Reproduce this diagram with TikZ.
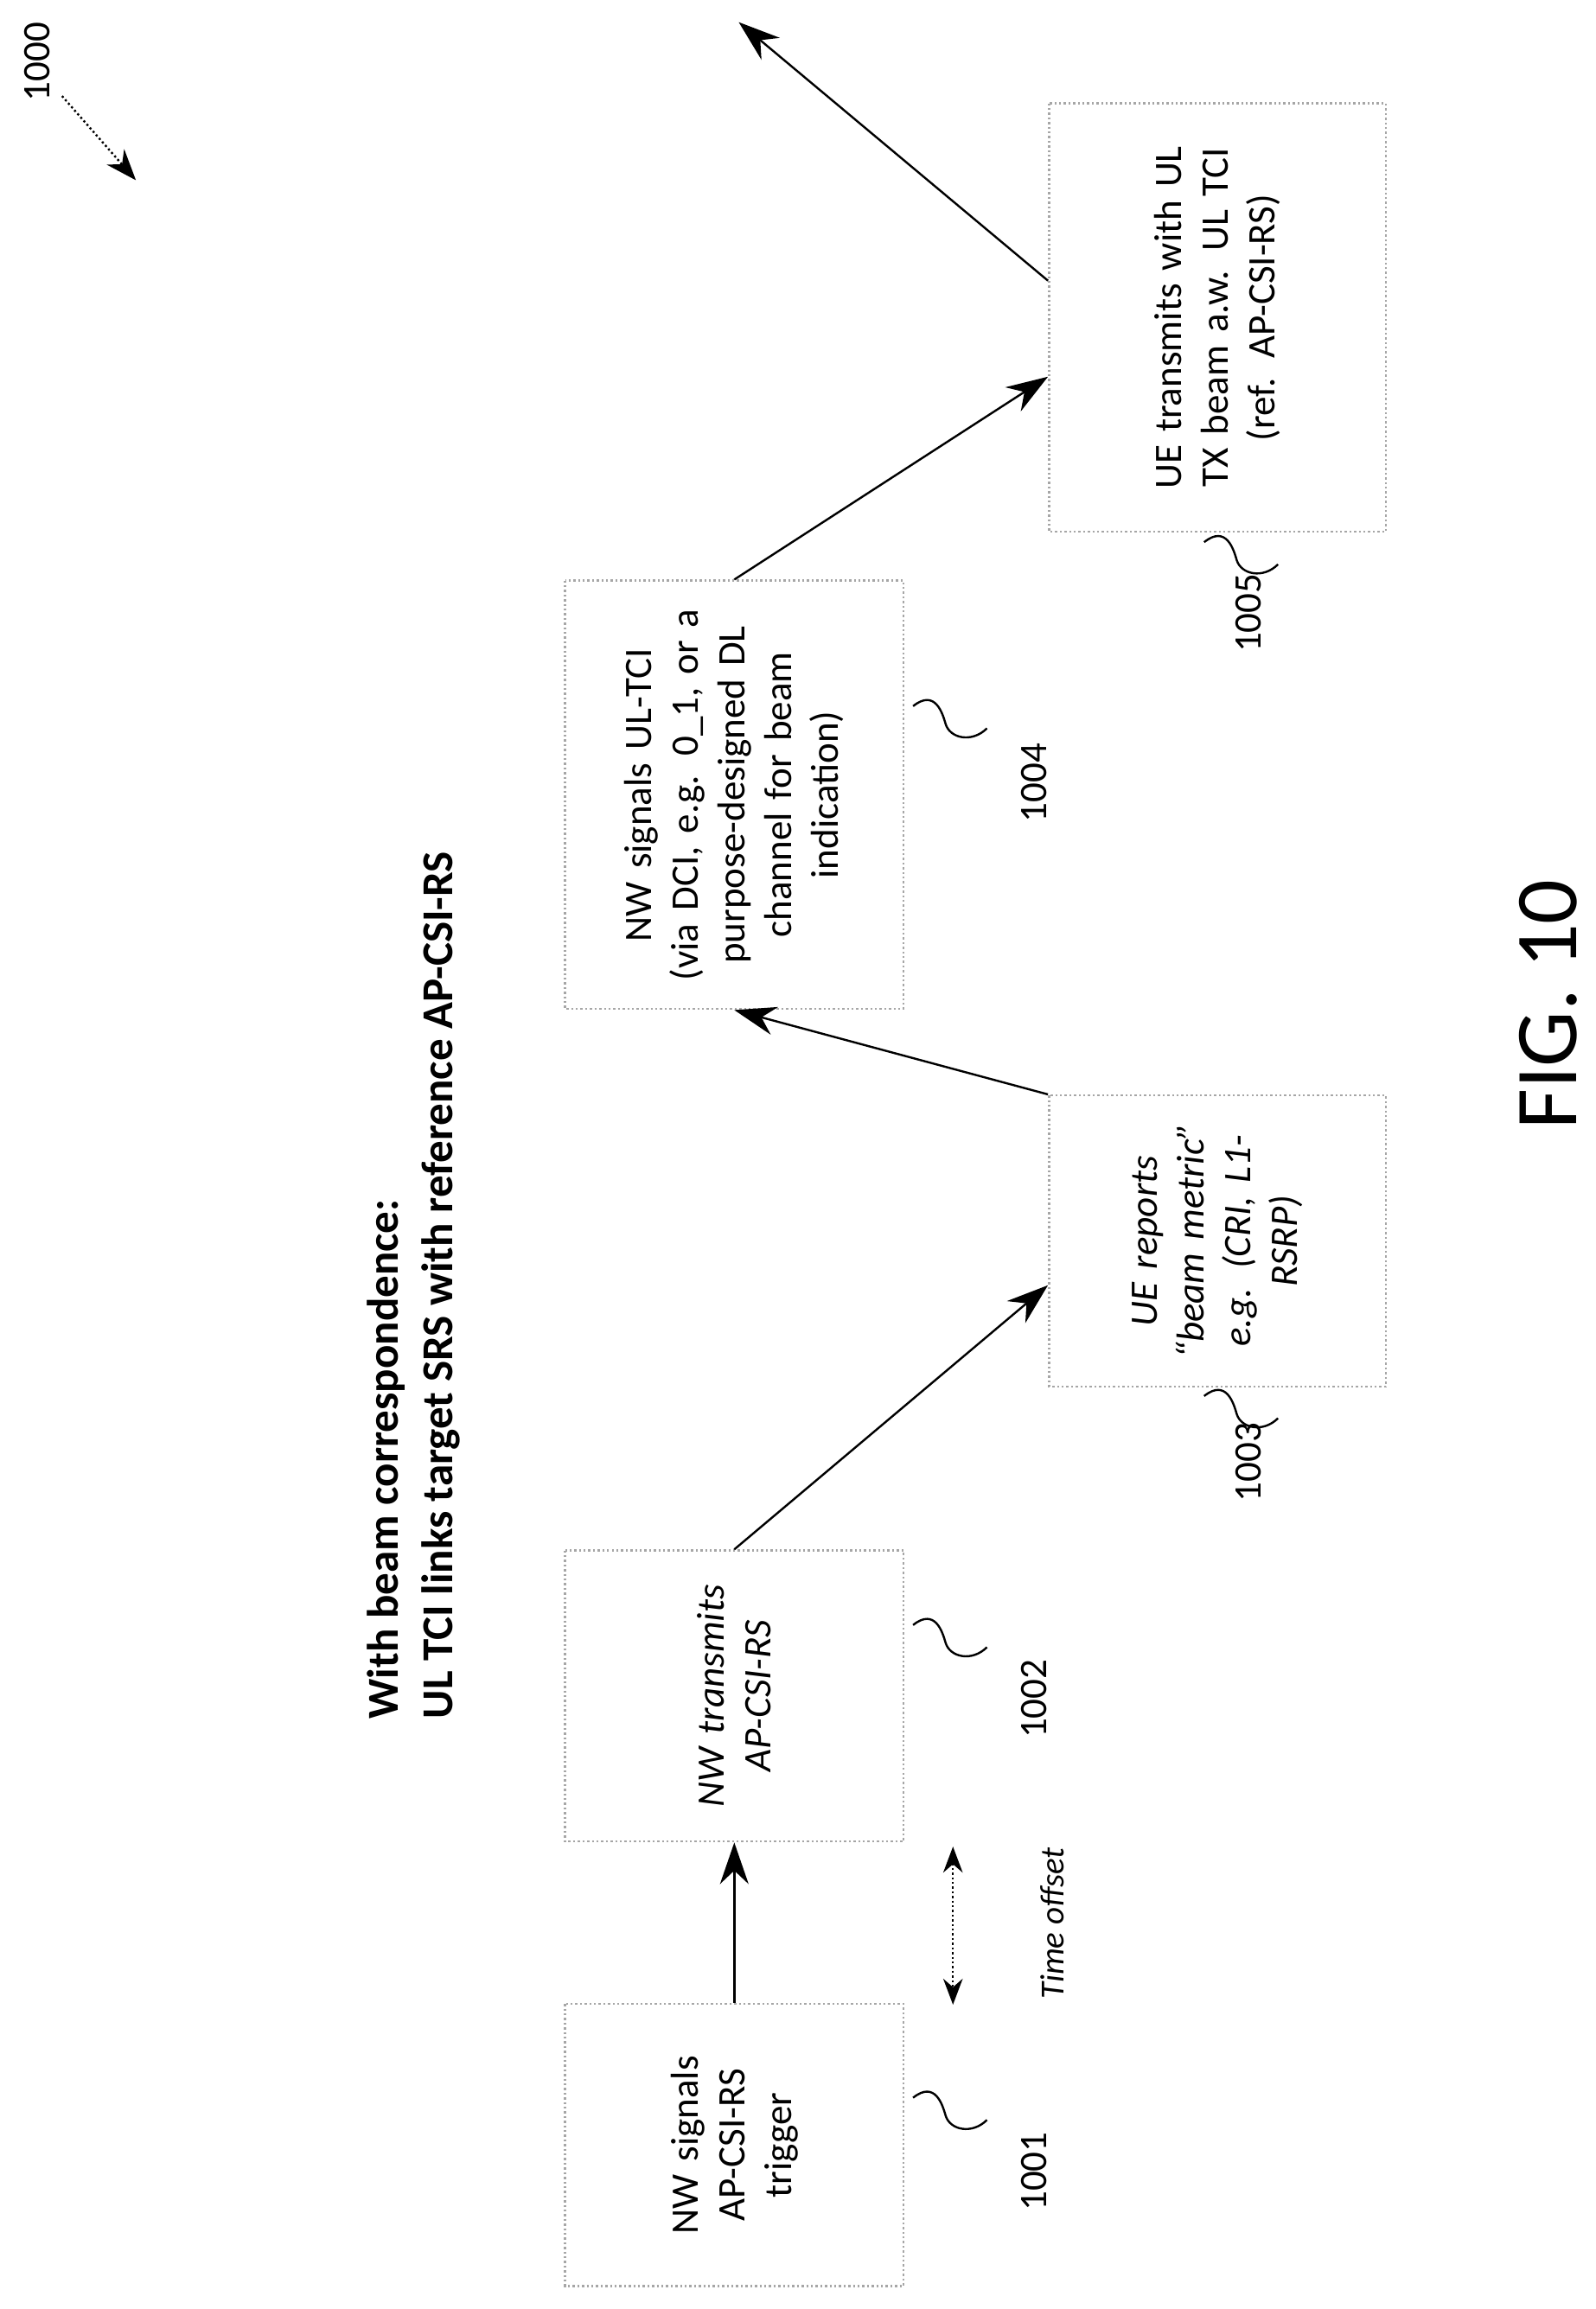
\documentclass[tikz,border=0pt]{standalone}
\usepackage{fontspec}
\setmainfont{Carlito}
\usetikzlibrary{arrows.meta,calc,positioning}
\tikzset{
  box/.style={draw=gray!70,densely dotted,thick,rotate=90,align=center,font=\fontsize{15}{18}\selectfont,inner sep=4pt},
  flow/.style={thick,-{Stealth[length=16pt,width=11pt]}},
  squig/.style={thick},
  ref/.style={rotate=90,font=\fontsize{15}{18}\selectfont}
}
\begin{document}
\begin{tikzpicture}[x=0.02cm,y=-0.02cm]
\useasboundingbox (0,0) rectangle (1080,1563);
% title
\node[rotate=90,align=left,font=\bfseries\fontsize{17}{21}\selectfont] (title) at (280,870)
  {With beam correspondence:\\UL TCI links target SRS with reference AP-CSI-RS};
% boxes
\node[box,minimum width=191*0.02cm,minimum height=229*0.02cm,text width=170*0.02cm] (b1) at (497,1452) {NW signals\\AP-CSI-RS\\trigger};
\node[box,minimum width=197*0.02cm,minimum height=229*0.02cm,text width=180*0.02cm,font=\itshape\fontsize{15}{18}\selectfont] (b2) at (497,1148) {NW transmits\\AP-CSI-RS};
\node[box,minimum width=197*0.02cm,minimum height=228*0.02cm,text width=180*0.02cm,font=\itshape\fontsize{15}{18}\selectfont] (b3) at (824,840) {UE reports\\``beam metric''\\e.g. (CRI, L1-\\RSRP)};
\node[box,minimum width=290*0.02cm,minimum height=229*0.02cm,text width=270*0.02cm] (b4) at (497,538) {NW signals UL-TCI\\(via DCI, e.g. 0\_1, or a\\purpose-designed DL\\channel for beam\\indication)};
\node[box,minimum width=290*0.02cm,minimum height=228*0.02cm,text width=270*0.02cm] (b5) at (824,215) {UE transmits with UL\\TX beam a.w. UL TCI\\(ref. AP-CSI-RS)};
\coordinate (out) at (500,15);
% connectors
\draw[flow] (b1.east) -- (b2.west);
\draw[flow] (b2.east) -- ($(b3.north)+(0,30)$);
\draw[flow] (b3.north east) -- (b4.west);
\draw[flow] (b4.east) -- ($(b5.north)+(0,40)$);
\draw[flow] ($(b5.north)+(0,-25)$) -- (out);
% time offset
\coordinate (t1) at (645,1250);
\coordinate (t2) at (645,1357);
\draw[densely dotted,thick,{Stealth[length=10pt]}-{Stealth[length=10pt]}] (t1) -- (t2);
\node[ref,font=\itshape\fontsize{13}{16}\selectfont] (toff) at (712,1302) {Time offset};
% reference numerals
\foreach \n/\x/\y/\lx/\ly in {1001/618/1420/700/1470, 1002/618/1100/700/1150, 1003/815/945/845/990, 1004/618/478/700/530, 1005/815/367/845/415}{
  \draw[squig] (\x,\y) .. controls (\x+15,\y-12) and (\x+20,\y+5) .. (\x+22,\y+12)
     .. controls (\x+25,\y+22) and (\x+40,\y+25) .. (\x+50,\y+15);
  \node[ref] (r\n) at (\lx,\ly) {\n};
}
% figure label
\node[rotate=90,font=\fontsize{34}{40}\selectfont] (fig) at (1048,680) {FIG. 10};
\node[ref] (r1000) at (25,42) {1000};
\coordinate (p1000) at (92,122);
\draw[thick,densely dotted,-{Stealth[length=12pt,width=9pt]}] (42,65) -- (p1000);
\end{tikzpicture}
\end{document}
